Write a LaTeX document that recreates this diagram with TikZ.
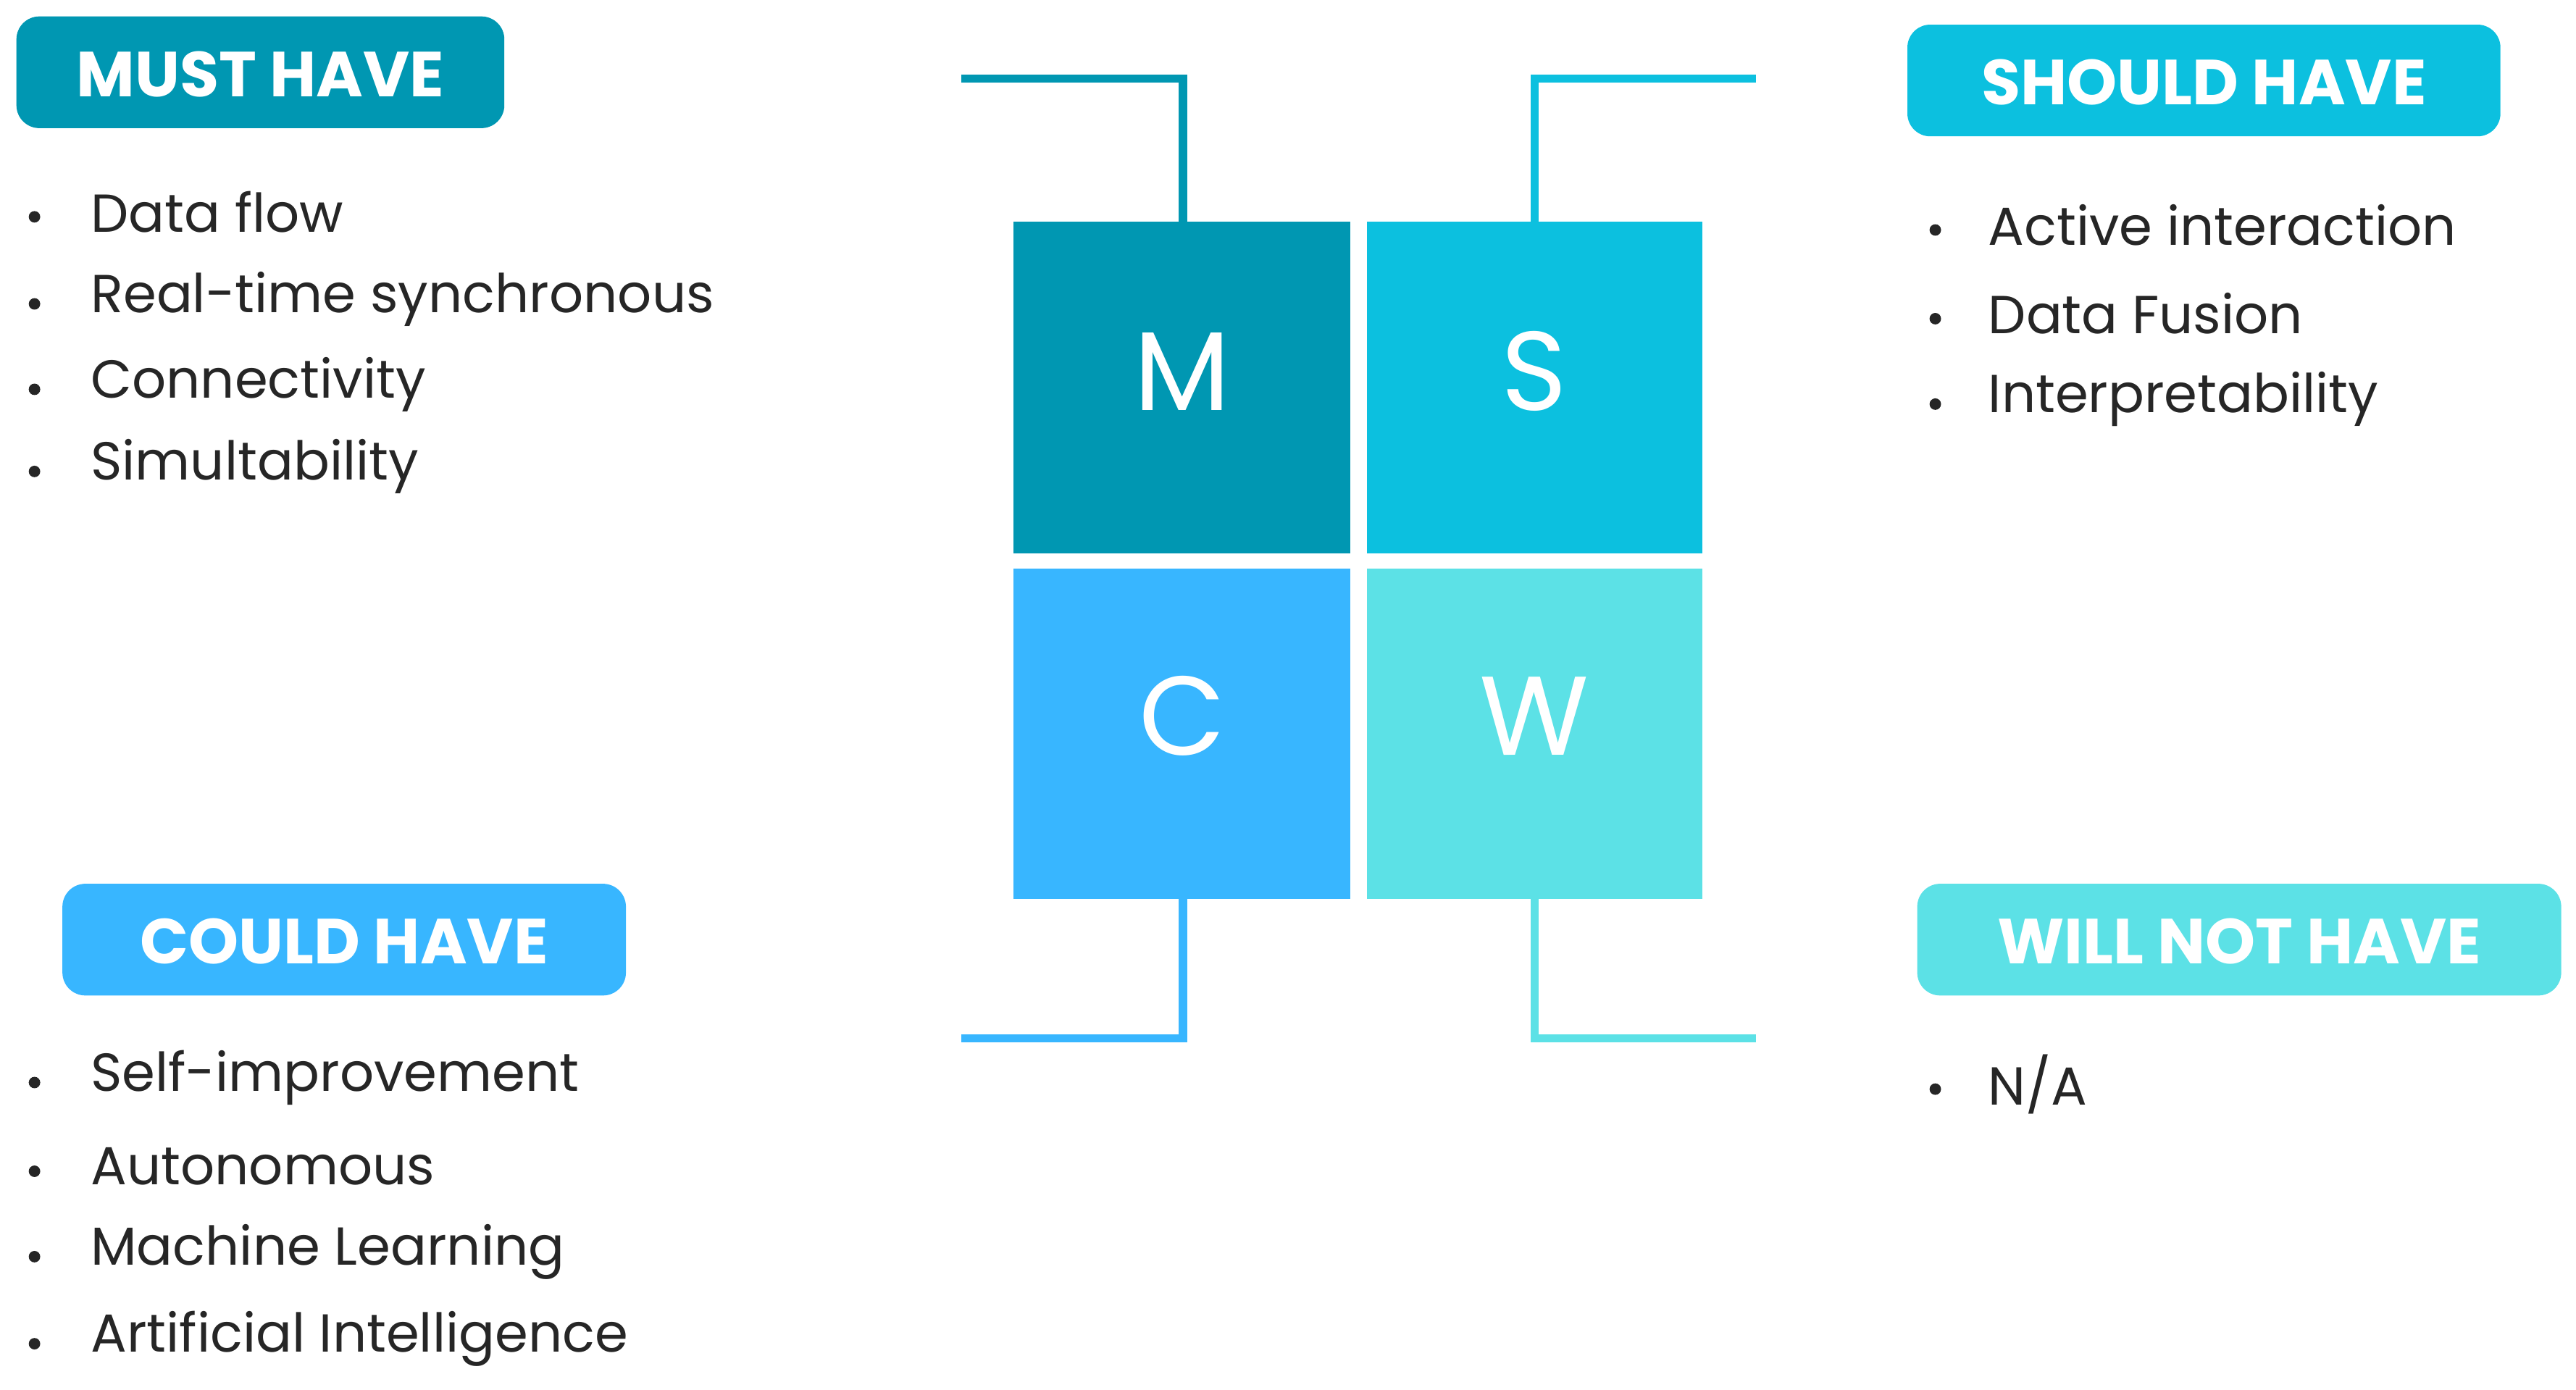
\documentclass[tikz,border=0pt]{standalone}
\usepackage{fontspec}
\setmainfont{Poppins}
\definecolor{cM}{HTML}{0097B2}
\definecolor{cS}{HTML}{0CC0DF}
\definecolor{cC}{HTML}{38B6FF}
\definecolor{cW}{HTML}{5CE1E6}
\definecolor{txt}{HTML}{262626}
\begin{document}
\begin{tikzpicture}[x=0.02268cm,y=-0.02268cm,
 badge/.style={rounded corners=9pt,text=white,font=\fontsize{25}{25}\selectfont\bfseries,inner sep=0pt},
 sq/.style={text=white,font=\fontsize{44}{44}\selectfont},
 item/.style={anchor=west,text=txt,font=\fontsize{21}{21}\selectfont,inner sep=0pt},
 brk/.style={line width=3.2pt}]
\useasboundingbox (0,0) rectangle (1568,846);
% squares
\fill[cM] (617,135) rectangle (822,337); \node[sq] (m) at (719.5,226) {M};
\fill[cS] (832,135) rectangle (1036,337); \node[sq] (s) at (934,226) {S};
\fill[cC] (617,346) rectangle (822,547); \node[sq] (c) at (719.5,436) {C};
\fill[cW] (832,346) rectangle (1036,547); \node[sq] (w) at (934,436) {W};
% brackets
\coordinate (m1) at (720,135); \coordinate (m2) at (720,48); \coordinate (m3) at (585,48);
\draw[brk,cM] (m1) -- (m2) -- (m3);
\coordinate (s1) at (934,135); \coordinate (s2) at (934,48); \coordinate (s3) at (1069,48);
\draw[brk,cS] (s1) -- (s2) -- (s3);
\coordinate (c1) at (720,547); \coordinate (c2) at (720,632); \coordinate (c3) at (585,632);
\draw[brk,cC] (c1) -- (c2) -- (c3);
\coordinate (w1) at (934,547); \coordinate (w2) at (934,632); \coordinate (w3) at (1069,632);
\draw[brk,cW] (w1) -- (w2) -- (w3);
% badges
\fill[cM,rounded corners=9pt] (10,10) rectangle (307,78); \node[badge] (bm) at (158.5,45) {MUST HAVE};
\fill[cS,rounded corners=9pt] (1161,15) rectangle (1522,83); \node[badge] (bs) at (1341.5,50) {SHOULD HAVE};
\fill[cC,rounded corners=9pt] (38,538) rectangle (381,606); \node[badge] (bc) at (209.5,573) {COULD HAVE};
\fill[cW,rounded corners=9pt] (1167,538) rectangle (1559,606); \node[badge] (bw) at (1363,573) {WILL NOT HAVE};
% lists
\foreach \y/\t [count=\i] in {129/Data flow / Updates,182/Real-time synchronous,234/Connectivity,284/Simultability}{
 \fill[txt] (21,\y+3) circle (3.5); \node[item] (lm\i) at (55,\y) {\t};}
\foreach \y/\t [count=\i] in {137/Active interaction,191/Data Fusion,243/Interpretability}{
 \fill[txt] (1178,\y+3) circle (3.5); \node[item] (ls\i) at (1210,\y) {\t};}
\foreach \y/\t [count=\i] in {656/Self-improvement,710/Autonomous,762/Machine Learning,815/Artificial Intelligence}{
 \fill[txt] (21,\y+3) circle (3.5); \node[item] (lc\i) at (55,\y) {\t};}
\fill[txt] (1178,663) circle (3.5); \node[item] (lw1) at (1210,660) {N/A};
\end{tikzpicture}
\end{document}
